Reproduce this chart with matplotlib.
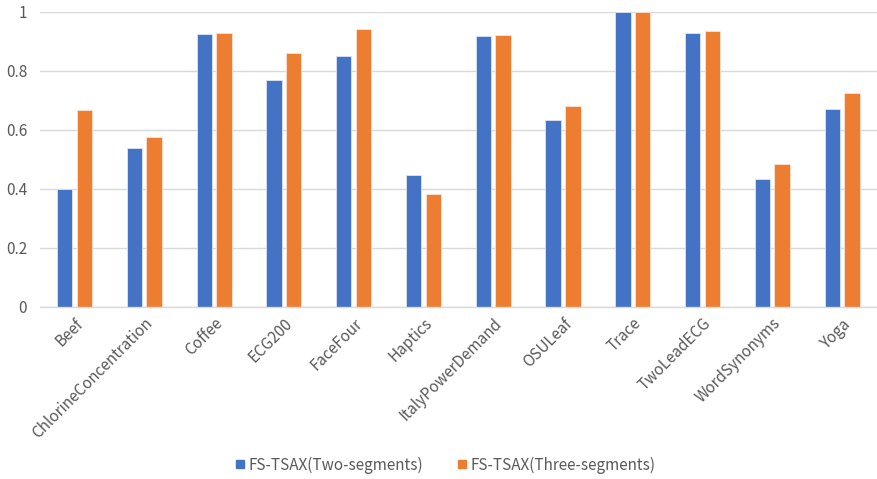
import matplotlib
matplotlib.use("Agg")
import matplotlib.pyplot as plt
from matplotlib.lines import Line2D
import numpy as np

categories = ["Beef", "ChlorineConcentration", "Coffee", "ECG200", "FaceFour",
              "Haptics", "ItalyPowerDemand", "OSULeaf", "Trace", "TwoLeadECG",
              "WordSynonyms", "Yoga"]
two_segments = [0.400, 0.537, 0.926, 0.769, 0.851, 0.447, 0.920, 0.635, 1.000, 0.930, 0.433, 0.670]
three_segments = [0.667, 0.575, 0.930, 0.861, 0.941, 0.383, 0.923, 0.681, 1.000, 0.936, 0.483, 0.724]
series_names = ["FS-TSAX(Two-segments)", "FS-TSAX(Three-segments)"]
y_ticks = [0, 0.2, 0.4, 0.6, 0.8, 1]
y_tick_labels = ["0", "0.2", "0.4", "0.6", "0.8", "1"]

BLUE = "#4472C4"
ORANGE = "#ED7D31"
TEXT = "#595959"
GRID = "#D9D9D9"

plt.rcParams["font.family"] = ["Noto Sans CJK SC", "DejaVu Sans"]

fig = plt.figure(figsize=(8.77, 4.79), dpi=100)
ax = fig.add_axes([0.0452, 0.3597, 0.9548, 0.975 - 0.3597])

x = np.arange(len(categories))
w = 0.22
off = 0.141
ax.bar(x - off, two_segments, width=w, color=BLUE, edgecolor="#DCE5F5", linewidth=0.6, zorder=3)
ax.bar(x + off, three_segments, width=w, color=ORANGE, edgecolor="#FBE3D3", linewidth=0.6, zorder=3)

ax.set_xlim(-0.5, len(categories) - 0.5)
ax.set_ylim(0, 1)
ax.set_yticks(y_ticks)
ax.set_yticklabels(y_tick_labels)
ax.yaxis.grid(True, color=GRID, linewidth=1.0, zorder=0)
ax.set_axisbelow(True)
for s in ["top", "right", "left"]:
    ax.spines[s].set_visible(False)
ax.spines["bottom"].set_color(GRID)
ax.spines["bottom"].set_linewidth(1.0)
ax.spines["bottom"].set_zorder(4)

ax.tick_params(axis="y", length=0, pad=9, labelsize=11, labelcolor=TEXT)
ax.tick_params(axis="x", length=0, pad=6, labelsize=11, labelcolor=TEXT)
ax.set_xticks(x)
ax.set_xticklabels(categories, rotation=45, ha="right", va="top", rotation_mode="anchor")

handles = [
    Line2D([], [], marker="s", linestyle="none", markersize=6, color=BLUE),
    Line2D([], [], marker="s", linestyle="none", markersize=6, color=ORANGE),
]
leg = fig.legend(handles, series_names, loc="center", bbox_to_anchor=(0.508, 0.029),
                 ncol=2, frameon=False, fontsize=11, handlelength=0.6,
                 handletextpad=0.3, columnspacing=2.2)
for t in leg.get_texts():
    t.set_color(TEXT)

fig.savefig("out.png", dpi=100)
